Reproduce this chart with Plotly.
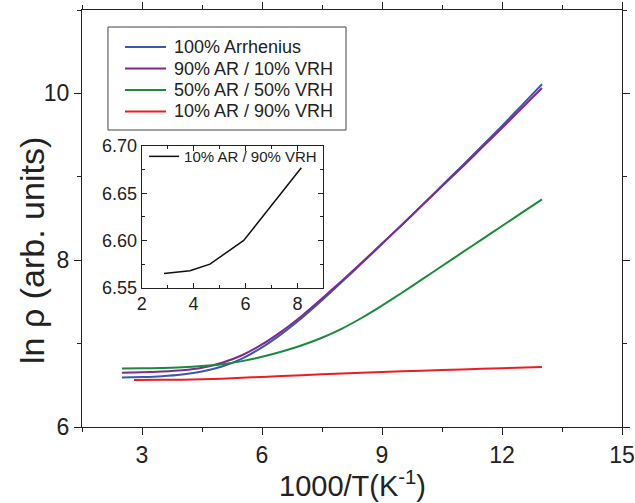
import plotly.graph_objects as go

# Temperature axis, 1000/T (K^-1)
x_main = [2.5, 3.0, 3.5, 4.0, 4.5, 5.0, 5.5, 6.0, 6.5, 7.0, 7.5, 8.0, 8.5,
          9.0, 9.5, 10.0, 10.5, 11.0, 11.5, 12.0, 12.5, 13.0]

# ln(rho) for each conduction mix
arrhenius_100 = [6.595, 6.600, 6.610, 6.630, 6.665, 6.725, 6.820, 6.955, 7.120, 7.310, 7.520,
                 7.740, 7.965, 8.195, 8.425, 8.660, 8.895, 9.130, 9.370, 9.610, 9.860, 10.110]
ar90_vrh10 = [6.650, 6.655, 6.665, 6.680, 6.710, 6.770, 6.860, 6.990, 7.150, 7.335, 7.540,
              7.755, 7.975, 8.200, 8.425, 8.655, 8.885, 9.115, 9.350, 9.585, 9.825, 10.065]
ar50_vrh50 = [6.700, 6.703, 6.708, 6.716, 6.730, 6.752, 6.790, 6.842, 6.905, 6.980, 7.070,
              7.180, 7.310, 7.455, 7.610, 7.770, 7.930, 8.090, 8.250, 8.410, 8.570, 8.730]

x_red = [2.8, 3.5, 4.0, 4.5, 5.0, 5.5, 6.0, 7.0, 8.0, 9.0, 10.0, 11.0, 12.0, 13.0]
ar10_vrh90 = [6.565, 6.566, 6.568, 6.573, 6.580, 6.590, 6.600, 6.622, 6.642, 6.659,
              6.675, 6.690, 6.705, 6.720]

# Close-up of the 10% AR / 90% VRH case
x_inset = [2.86, 3.86, 4.63, 5.93, 8.15]
y_inset = [6.565, 6.568, 6.575, 6.600, 6.677]

series_names = ["100% Arrhenius", "90% AR / 10% VRH", "50% AR / 50% VRH", "10% AR / 90% VRH"]
colors = ["#3b59a8", "#7e2b8e", "#1b8a3e", "#ec1c24"]

FONT = "Arial, Liberation Sans, sans-serif"
INK = "#222222"

fig = go.Figure()

for name, ys, xs, c in zip(series_names,
                           [arrhenius_100, ar90_vrh10, ar50_vrh50, ar10_vrh90],
                           [x_main, x_main, x_main, x_red],
                           colors):
    fig.add_trace(go.Scatter(x=xs, y=ys, mode="lines", name=name, showlegend=False,
                             line=dict(color=c, width=2, shape="spline", smoothing=0.5),
                             xaxis="x", yaxis="y"))

fig.add_trace(go.Scatter(x=x_inset, y=y_inset, mode="lines", name="10% AR / 90% VRH",
                         line=dict(color="#111111", width=1.5),
                         xaxis="x2", yaxis="y2", legend="legend2"))

# Boxed key for the main curves, laid out in paper coordinates
key_box = dict(x0=0.0481, x1=0.4889, y0=0.7122, y1=0.9592)
key_rows = [0.9113, 0.8597, 0.8082, 0.7566]
key_line_x = (0.0796, 0.1556)
key_text_x = 0.1667

shapes = [dict(type="rect", xref="paper", yref="paper", **key_box,
               line=dict(color="#444444", width=1), fillcolor="white", layer="above")]
annotations = []
for name, c, yrow in zip(series_names, colors, key_rows):
    shapes.append(dict(type="line", xref="paper", yref="paper",
                       x0=key_line_x[0], x1=key_line_x[1], y0=yrow, y1=yrow,
                       line=dict(color=c, width=2), layer="above"))
    annotations.append(dict(text=name, showarrow=False, xref="paper", yref="paper",
                            x=key_text_x, y=yrow, xanchor="left", yanchor="middle",
                            font=dict(size=18, family=FONT, color=INK)))

# Axis titles
annotations.append(dict(text="ln ρ (arb. units)", textangle=-90, showarrow=False,
                        xref="paper", yref="paper", x=-0.0926, y=0.4245,
                        xanchor="center", yanchor="middle",
                        font=dict(size=34, family=FONT, color=INK)))
annotations.append(dict(text="1000/T(K<sup>-1</sup>)", showarrow=False,
                        xref="paper", yref="paper", x=0.5, y=-0.1355,
                        xanchor="center", yanchor="middle",
                        font=dict(size=29, family=FONT, color=INK)))

axis_common = dict(showline=True, linecolor=INK, linewidth=1.3, automargin=False,
                   showgrid=False, zeroline=False, mirror="allticks",
                   tickcolor=INK, color=INK)

fig.update_layout(
    width=635, height=503,
    margin=dict(l=82, r=13, t=10, b=76),
    paper_bgcolor="white", plot_bgcolor="white",
    font=dict(family=FONT, color=INK),
    xaxis=dict(
        **axis_common, domain=[0, 1], anchor="y",
        range=[1.5, 15], tick0=3, dtick=3, ticks="outside", ticklen=7, tickwidth=1.3,
        minor=dict(tick0=1.5, dtick=1.5, ticks="outside", ticklen=4, tickcolor=INK),
        tickfont=dict(size=23),
    ),
    yaxis=dict(
        **axis_common, domain=[0, 1], anchor="x",
        range=[6, 11], tick0=6, dtick=2, ticks="outside", ticklen=7, tickwidth=1.3,
        minor=dict(tick0=6, dtick=1, ticks="outside", ticklen=4, tickcolor=INK),
        tickfont=dict(size=23),
    ),
    xaxis2=dict(
        **axis_common, domain=[0.1106, 0.447], anchor="y2",
        range=[2, 9], tick0=2, dtick=2, ticks="inside", ticklen=5, tickwidth=1,
        minor=dict(dtick=1, ticks="inside", ticklen=3, tickcolor=INK),
        tickfont=dict(size=18),
    ),
    yaxis2=dict(
        **axis_common, domain=[0.334, 0.674], anchor="x2",
        range=[6.55, 6.70], tick0=6.55, dtick=0.05, tickformat=".2f",
        ticks="inside", ticklen=5, tickwidth=1,
        minor=dict(dtick=0.025, ticks="inside", ticklen=3, tickcolor=INK),
        tickfont=dict(size=18),
    ),
    legend2=dict(
        x=0.115, y=0.688, xanchor="left", yanchor="top",
        bgcolor="rgba(0,0,0,0)", borderwidth=0,
        font=dict(size=15, family=FONT, color=INK),
    ),
    showlegend=True,
    shapes=shapes,
    annotations=annotations,
)

fig.write_html("out.html")
